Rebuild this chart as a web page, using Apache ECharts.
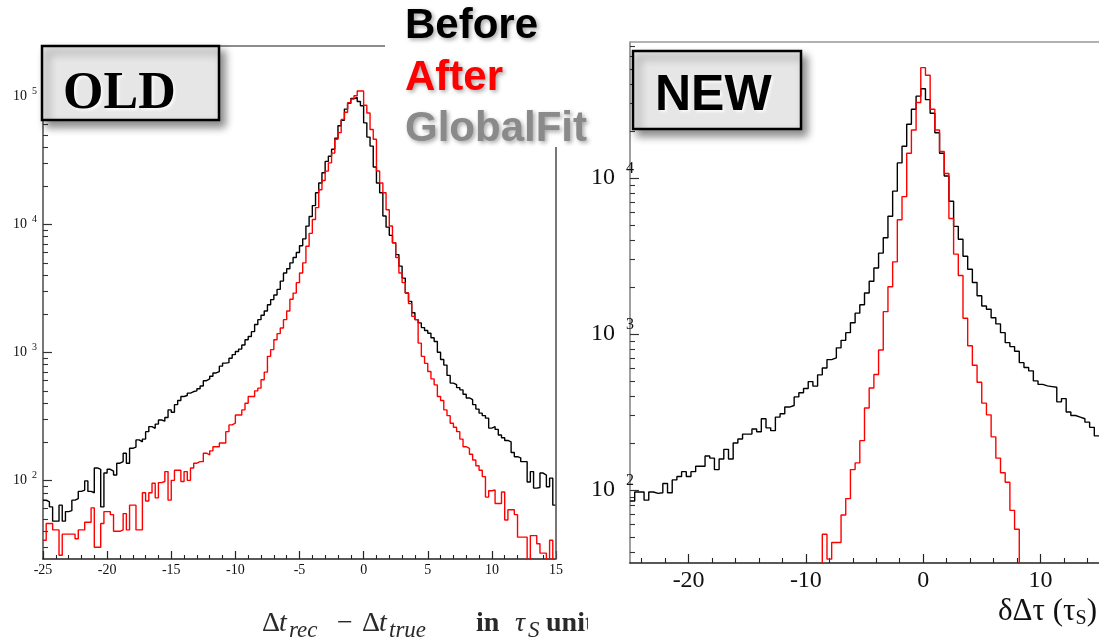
<!DOCTYPE html>
<html>
<head>
<meta charset="utf-8">
<script src="https://cdn.jsdelivr.net/npm/echarts@6/dist/echarts.min.js"></script>
<style>
  html, body { margin: 0; padding: 0; background: #fff; }
  #chart { width: 1099px; height: 639px; }
</style>
</head>
<body>
<div id="chart"></div>
<script>
// ---- histogram binning ----
const oldBinStart = -25, oldBinWidth = 0.25;   // 160 bins over [-25, 15]
const newBinStart = -25, newBinWidth = 0.4;    // 100 bins over [-25, 15]

// OLD reconstruction: entries per bin
const oldBefore = [
  70, 68, 62, 48, 48, 64, 48, 57, 58, 70, 72, 82, 84, 99, 82, 80,
  125, 122, 62, 114, 122, 118, 110, 136, 140, 163, 136, 178, 182, 207, 200, 210,
  240, 263, 255, 275, 296, 290, 310, 355, 340, 390, 420, 452, 460, 480, 494, 500,
  520, 545, 600, 620, 650, 690, 708, 780, 824, 830, 900, 960, 1016, 1060, 1140, 1253,
  1330, 1450, 1650, 1800, 1950, 2100, 2350, 2580, 2800, 3100, 3600, 4170, 4500, 5000, 5500, 6020,
  6800, 7700, 9680, 11500, 14000, 17650, 21000, 25300, 31000, 34000, 38600, 47000, 58900, 65000, 79400, 88000,
  96000, 97800, 91000, 84300, 62000, 48000, 40800, 28000, 21000, 17650, 11600, 9500, 8200, 7180, 5800, 4710,
  3800, 2910, 2500, 2040, 1800, 1698, 1560, 1480, 1410, 1300, 1216, 1000, 880, 795, 660, 575,
  560, 530, 509, 470, 440, 427, 390, 360, 335, 320, 306, 256, 263, 250, 226, 215,
  205, 200, 165, 153, 150, 140, 140, 97, 117, 87, 88, 114, 110, 89, 104, 64
];
const oldAfter = [
  34, 46, 46, 41, 41, 26, 38, 38, 38, 38, 35, 41, 41, 47, 47, 61,
  30, 30, 46, 57, 57, 54, 40, 40, 41, 55, 41, 64, 64, 41, 41, 80,
  69, 80, 95, 73, 96, 98, 117, 70, 100, 120, 120, 98, 117, 100, 125, 136,
  140, 140, 163, 158, 170, 183, 183, 196, 196, 240, 271, 280, 324, 324, 355, 400,
  452, 452, 500, 525, 610, 700, 930, 1050, 1253, 1400, 1550, 1800, 2100, 2600, 2900, 3500,
  4170, 5000, 6740, 8500, 10900, 13500, 18600, 22000, 26000, 30200, 36000, 46200, 52000, 66000, 75000, 89000,
  95000, 101000, 110000, 110000, 85000, 74000, 55000, 46200, 26100, 21000, 17650, 13000, 9700, 7180, 5500, 4170,
  3500, 2910, 2400, 1910, 1800, 1180, 930, 820, 708, 620, 557, 452, 420, 355, 320, 279,
  260, 240, 210, 183, 178, 160, 144, 130, 120, 107, 74, 83, 84, 66, 66, 81,
  49, 59, 59, 54, 36, 36, 36, 20, 37, 37, 32, 27, 27, 20, 34, 20
];

// NEW reconstruction: entries per bin (null = no entries drawn)
const newBefore = [
  85, 97, 97, 86, 97, 95, 96, 110, 96, 116,
  122, 131, 122, 131, 142, 142, 165, 160, 135, 158,
  182, 158, 200, 212, 228, 228, 246, 236, 286, 250,
  240, 293, 308, 340, 348, 395, 420, 447, 495, 463,
  547, 605, 685, 703, 815, 910, 1020, 1180, 1360, 1540,
  1830, 2180, 2650, 3300, 4140, 5690, 8240, 12500, 16000, 22100,
  27600, 33500, 37400, 31800, 26000, 19500, 14400, 10300, 7100, 4900,
  4050, 3150, 2600, 2140, 1760, 1510, 1440, 1270, 1160, 1020,
  880, 830, 775, 655, 610, 580, 500, 475, 465, 460,
  455, 367, 385, 316, 300, 293, 286, 272, 252, 222
];
const newAfter = [
  null, null, null, null, null, null, null, null, null, null,
  null, null, null, null, null, null, null, null, null, null,
  null, null, null, null, null, null, null, null, null, null,
  null, null, null, null, null, null, null, null, null, null,
  20, 52, 36, 46, 46, 69, 88, 135, 149, 207,
  335, 450, 550, 790, 1390, 2010, 2900, 5400, 7600, 14400,
  20300, 30500, 51000, 45600, 27600, 20300, 14800, 10700, 5500, 3250,
  2370, 1260, 840, 630, 490, 360, 303, 219, 160, 129,
  112, 74, 56, 20, null, null, null, null, null, null,
  null, null, null, null, null, null, null, null, null, null
];

// ---- axis ticks ----
const oldXLabels = [-25, -20, -15, -10, -5, 0, 5, 10, 15];
const newXLabels = [-20, -10, 0, 10];
const oldYLabels = [1e2, 1e3, 1e4, 1e5];
const newYLabels = [1e2, 1e3, 1e4];
const oldYRange = [24.3, 247000];
const newYRange = [34, 74500];

function minorLinear(min, max, step, majors) {
  const out = [];
  for (let v = min; v <= max + 1e-9; v += step) {
    const r = Math.round(v * 1000) / 1000;
    if (majors.indexOf(r) < 0) out.push(r);
  }
  return out;
}
function minorLog(range) {
  const out = [];
  for (let d = 1; d <= 6; d++) {
    for (let m = 2; m <= 9; m++) {
      const v = m * Math.pow(10, d);
      if (v >= range[0] && v <= range[1]) out.push(v);
    }
  }
  return out;
}
// step-shaped histogram outline: one point per bin edge
function stepPoints(start, width, values) {
  const pts = values.map((v, i) => [start + i * width, v]);
  pts.push([start + values.length * width, values[values.length - 1]]);
  return pts;
}

const serif = 'Liberation Serif';
const sans = 'Liberation Sans';

function xAxes(grid, labels, minors, majLen, minLen, font, margin) {
  return [{
    type: 'value', gridIndex: grid, min: -25, max: 15, position: 'bottom',
    axisLine: { show: true, onZero: false, lineStyle: { color: '#222', width: 1.6 } },
    axisTick: { show: true, inside: true, length: majLen, customValues: labels, lineStyle: { color: '#222', width: 1.2 } },
    axisLabel: { show: true, customValues: labels, margin: margin, fontFamily: serif, fontSize: font, color: '#111' },
    splitLine: { show: false }
  }, {
    type: 'value', gridIndex: grid, min: -25, max: 15, position: 'bottom',
    axisLine: { show: false, onZero: false },
    axisTick: { show: true, inside: true, length: minLen, customValues: minors, lineStyle: { color: '#222', width: 1.1 } },
    axisLabel: { show: false },
    splitLine: { show: false }
  }];
}
function yAxes(grid, range, labels, majLen, minLen, rich, margin, axisColor) {
  return [{
    type: 'log', logBase: 10, gridIndex: grid, min: range[0], max: range[1], position: 'left',
    axisLine: { show: true, onZero: false, lineStyle: { color: axisColor, width: 1.6 } },
    axisTick: { show: true, inside: true, length: majLen, customValues: labels, lineStyle: { color: '#333', width: 1.2 } },
    axisLabel: {
      show: true, customValues: labels, margin: margin,
      formatter: v => '{b|10}{s|' + Math.round(Math.log10(v)) + '}',
      rich: rich
    },
    splitLine: { show: false }
  }, {
    type: 'log', logBase: 10, gridIndex: grid, min: range[0], max: range[1], position: 'left',
    axisLine: { show: false, onZero: false },
    axisTick: { show: true, inside: true, length: minLen, customValues: minorLog(range), lineStyle: { color: '#333', width: 1.1 } },
    axisLabel: { show: false },
    splitLine: { show: false }
  }];
}

function histSeries(name, xi, yi, start, width, values, color) {
  return {
    name: name, type: 'line', xAxisIndex: xi, yAxisIndex: yi,
    step: 'end', showSymbol: false, symbol: 'none', clip: true,
    data: stepPoints(start, width, values),
    lineStyle: { color: color, width: 1.4 },
    animation: false, z: 3
  };
}

const legendShadow = { textShadowColor: 'rgba(0,0,0,0.35)', textShadowBlur: 4, textShadowOffsetX: 2, textShadowOffsetY: 2 };

// pieces of the OLD x-axis title: Δt_rec − Δt_true in τ_S units
function titlePiece(x, text, kind) {
  const st = { x: x, text: text, fill: '#2a2a2a', fontFamily: serif, verticalAlign: 'middle' };
  if (kind === 'sub') { st.fontSize = 23; st.fontStyle = 'italic'; st.y = 631; }
  else { st.fontSize = 28; st.y = 624; }
  if (kind === 'it') st.fontStyle = 'italic';
  if (kind === 'bf') st.fontWeight = 'bold';
  return { type: 'text', z: 6, style: st };
}

const option = {
  backgroundColor: '#fff',
  animation: false,
  grid: [
    { left: 43, top: 46, width: 513, height: 513, outerBoundsMode: 'none', containLabel: false },
    { left: 630, top: 42, width: 469, height: 521, outerBoundsMode: 'none', containLabel: false }
  ],
  xAxis: [].concat(
    xAxes(0, oldXLabels, minorLinear(-25, 15, 1, oldXLabels), 8, 4, 14, 4),
    xAxes(1, newXLabels, minorLinear(-24, 14, 2, newXLabels), 9, 5, 24, 6)
  ),
  yAxis: [].concat(
    yAxes(0, oldYRange, oldYLabels, 9, 5, {
      b: { fontFamily: serif, fontSize: 14, color: '#111' },
      s: { fontFamily: serif, fontSize: 10, color: '#111', padding: [0, 0, 9, 5] }
    }, 6, '#555'),
    yAxes(1, newYRange, newYLabels, 9, 5, {
      b: { fontFamily: serif, fontSize: 24, color: '#111' },
      s: { fontFamily: serif, fontSize: 16, color: '#111', padding: [0, 0, 18, 11] }
    }, -4, '#888')
  ),
  series: [
    histSeries('Before', 0, 0, oldBinStart, oldBinWidth, oldBefore, '#000000'),
    histSeries('After', 0, 0, oldBinStart, oldBinWidth, oldAfter, '#ff0000'),
    histSeries('Before', 2, 2, newBinStart, newBinWidth, newBefore, '#000000'),
    histSeries('After', 2, 2, newBinStart, newBinWidth, newAfter, '#ff0000')
  ],
  graphic: [
    // frame pieces
    { type: 'line', z: 5, shape: { x1: 43, y1: 46, x2: 385, y2: 46 }, style: { stroke: '#666', lineWidth: 1.6 } },
    { type: 'line', z: 5, shape: { x1: 556, y1: 147, x2: 556, y2: 559 }, style: { stroke: '#555', lineWidth: 1.6 } },
    { type: 'line', z: 5, shape: { x1: 630, y1: 42, x2: 1099, y2: 42 }, style: { stroke: '#999', lineWidth: 1.6 } },
    // panel badges
    { type: 'rect', z: 20, shape: { x: 42, y: 46, width: 177, height: 74 },
      style: { fill: '#e6e6e6', stroke: '#000', lineWidth: 2.5, shadowBlur: 8, shadowOffsetX: 5, shadowOffsetY: 6, shadowColor: 'rgba(0,0,0,0.45)' } },
    { type: 'text', z: 21, style: { x: 63, y: 95, text: 'OLD', fontFamily: serif, fontWeight: 'bold', fontSize: 52, fill: '#000', verticalAlign: 'middle',
      textShadowColor: 'rgba(255,255,255,0.8)', textShadowBlur: 3, textShadowOffsetX: 2, textShadowOffsetY: 2 } },
    { type: 'rect', z: 20, shape: { x: 633, y: 51, width: 168, height: 78 },
      style: { fill: '#e6e6e6', stroke: '#000', lineWidth: 2.5, shadowBlur: 8, shadowOffsetX: 5, shadowOffsetY: 6, shadowColor: 'rgba(0,0,0,0.45)' } },
    { type: 'text', z: 21, style: { x: 655, y: 96, text: 'NEW', fontFamily: sans, fontWeight: 'bold', fontSize: 50, fill: '#000', verticalAlign: 'middle',
      textShadowColor: 'rgba(255,255,255,0.8)', textShadowBlur: 3, textShadowOffsetX: 2, textShadowOffsetY: 2 } },
    // legend words
    { type: 'text', z: 21, style: Object.assign({ x: 405, y: 26, text: 'Before', fontFamily: sans, fontWeight: 'bold', fontSize: 42, fill: '#000', verticalAlign: 'middle' }, legendShadow) },
    { type: 'text', z: 21, style: Object.assign({ x: 405, y: 78, text: 'After', fontFamily: sans, fontWeight: 'bold', fontSize: 42, fill: '#ff0000', verticalAlign: 'middle' }, legendShadow) },
    { type: 'text', z: 21, style: Object.assign({ x: 405, y: 129, text: 'GlobalFit', fontFamily: sans, fontWeight: 'bold', fontSize: 42, fill: '#8a8a8a', verticalAlign: 'middle' }, legendShadow) },
    // OLD x-axis title
    titlePiece(262, 'Δ', 'rm'), titlePiece(279, 't', 'it'), titlePiece(289, 'rec', 'sub'),
    titlePiece(337, '−', 'rm'),
    titlePiece(362, 'Δ', 'rm'), titlePiece(379, 't', 'it'), titlePiece(389, 'true', 'sub'),
    titlePiece(476, 'in', 'bf'),
    titlePiece(515, 'τ', 'it'), titlePiece(528, 'S', 'sub'),
    titlePiece(546, 'units', 'bf'),
    { type: 'rect', z: 7, shape: { x: 588, y: 598, width: 400, height: 41 }, style: { fill: '#fff' } },
    // NEW x-axis title
    { type: 'text', z: 6, style: {
      x: 998, y: 612, verticalAlign: 'middle',
      text: '{n|δΔτ (τ}{sb|S}{n|)}',
      rich: {
        n: { fontFamily: serif, fontSize: 31, fill: '#111' },
        sb: { fontFamily: serif, fontSize: 20, fill: '#111', padding: [14, 0, 0, 0] }
      } } }
  ]
};

const chart = echarts.init(document.getElementById('chart'), null, { renderer: 'canvas' });
chart.setOption(option);
</script>
</body>
</html>
